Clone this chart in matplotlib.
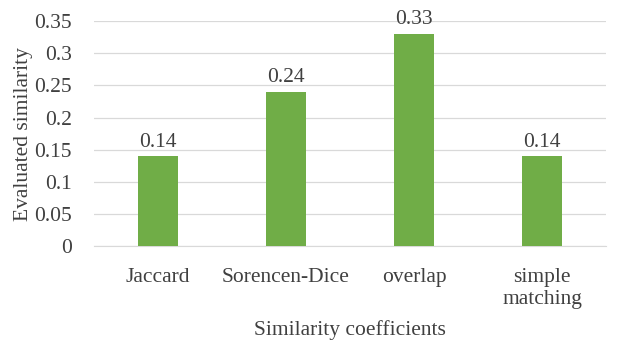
import matplotlib
matplotlib.use("Agg")
import matplotlib.pyplot as plt
import numpy as np

# similarity results per coefficient
coefficients = ["Jaccard", "Sorencen-Dice", "overlap", "simple\nmatching"]
similarity = [0.14, 0.24, 0.33, 0.14]
yticks = [0, 0.05, 0.1, 0.15, 0.2, 0.25, 0.3, 0.35]
ytick_labels = ["0", "0.05", "0.1", "0.15", "0.2", "0.25", "0.3", "0.35"]

plt.rcParams['font.family'] = ['Liberation Serif', 'DejaVu Serif']
text_col = '#404040'
fs = 15.5

fig = plt.figure(figsize=(6.3, 3.4), dpi=100)
ax = fig.add_axes([0.149, 0.276, 0.813, 0.662])

x = np.arange(len(coefficients))
bars = ax.bar(x, similarity, width=0.31, color='#70AD47', zorder=3)

for b, v in zip(bars, similarity):
    ax.text(b.get_x() + b.get_width() / 2, v + 0.007, "%g" % v,
            ha='center', va='bottom', fontsize=fs, color=text_col)

ax.set_xlim(-0.5, len(coefficients) - 0.5)
ax.set_ylim(0, 0.35)
ax.set_yticks(yticks)
ax.set_yticklabels(ytick_labels)
ax.set_xticks(x)
ax.set_xticklabels(coefficients, linespacing=1.2)
ax.tick_params(axis='both', length=0, labelsize=fs, colors=text_col)
ax.tick_params(axis='x', pad=16)
ax.tick_params(axis='y', pad=16)

ax.yaxis.grid(True, color='#D9D9D9', linewidth=0.9, zorder=0)
for s in ['top', 'right', 'left']:
    ax.spines[s].set_visible(False)
ax.spines['bottom'].set_color('#D9D9D9')

ax.set_xlabel("Similarity coefficients", fontsize=fs, color=text_col, labelpad=8)
ax.set_ylabel("Evaluated similarity", fontsize=fs, color=text_col, labelpad=1)

fig.savefig("out.png", dpi=100)
